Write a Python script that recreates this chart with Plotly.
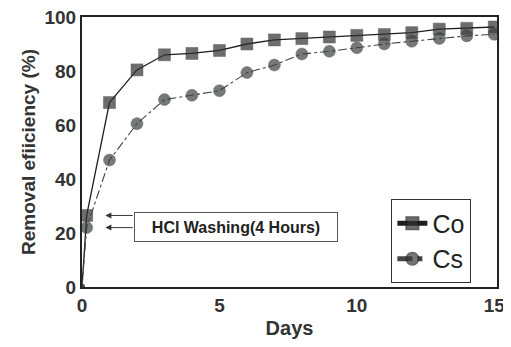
import plotly.graph_objects as go

days = [0, 0.17, 1, 2, 3, 4, 5, 6, 7, 8, 9, 10, 11, 12, 13, 14, 15]
co = [0, 26.5, 68.3, 80.4, 86.0, 86.5, 87.6, 90.0, 91.5, 92.0, 92.6, 93.2, 93.5, 94.2, 95.5, 95.8, 96.3]
cs = [0, 22.0, 47.0, 60.5, 69.4, 71.0, 72.7, 79.4, 82.2, 86.3, 87.3, 88.6, 90.0, 91.0, 92.0, 93.0, 93.6]
x_ticks = [0, 5, 10, 15]
y_ticks = [0, 20, 40, 60, 80, 100]
note = "HCl Washing(4 Hours)"
arrow_levels = [26.5, 22.0]

FONT = "Liberation Sans, Arial, sans-serif"
DARK = "#2e3231"

fig = go.Figure()
fig.add_trace(go.Scatter(
    x=days, y=co, name="Co", mode="lines+markers",
    line=dict(color="#1e1e1e", width=1.3),
    marker=dict(symbol="square", size=[5] + [12] * (len(days) - 1), color=DARK,
                line=dict(color="#1e1e1e", width=0.5)),
))
fig.add_trace(go.Scatter(
    x=days, y=cs, name="Cs", mode="lines+markers",
    line=dict(color="#444444", width=1.1, dash="dashdot"),
    marker=dict(symbol="circle", size=[5] + [12] * (len(days) - 1), color="#3c4140",
                line=dict(color="#2a2a2a", width=0.5)),
))

for lvl in arrow_levels:
    fig.add_annotation(x=0.85, y=lvl, ax=1.9, ay=lvl, xref="x", yref="y",
                       axref="x", ayref="y", text="", showarrow=True,
                       arrowhead=2, arrowsize=1.2, arrowwidth=1, arrowcolor="#333333")

fig.add_annotation(x=5.62, y=22.2, xref="x", yref="y", text="<b>" + note + "</b>", showarrow=False,
                   font=dict(family=FONT, size=16, color="#222222"),
                   bordercolor="#555555", borderwidth=1, borderpad=4,
                   width=194, height=20, bgcolor="white")

# page body has an 8px margin, so the figure is 8px smaller and margins shifted
fig.update_layout(
    width=503, height=339,
    margin=dict(l=74, r=14, t=9, b=60, autoexpand=False),
    paper_bgcolor="white", plot_bgcolor="white",
    font=dict(family=FONT, color="#222222"),
    showlegend=True,
    legend=dict(x=0.745, y=0.325, xanchor="left", yanchor="top",
                bordercolor="#333333", borderwidth=1.2, bgcolor="white",
                font=dict(family=FONT, size=25, color="#222222"),
                itemsizing="constant", tracegroupgap=0),
    xaxis=dict(range=[0, 15.1], tickvals=x_ticks, showgrid=False, zeroline=False,
               automargin=False, ticklabeloverflow="allow",
               showline=True, linecolor="#222222", linewidth=2, mirror=True,
               ticks="", tickfont=dict(family=FONT, size=19, color="#333333", weight="bold"),
               title=dict(text="<b>Days</b>", font=dict(family=FONT, size=20, color="#333333"),
                          standoff=6)),
    yaxis=dict(range=[0, 100], tickvals=y_ticks, showgrid=False, zeroline=False,
               automargin=False, ticklabeloverflow="allow",
               showline=True, linecolor="#222222", linewidth=2, mirror=True,
               ticks="", tickfont=dict(family=FONT, size=19, color="#333333", weight="bold"),
               title=dict(text="<b>Removal efiiciency (%)</b>",
                          font=dict(family=FONT, size=19, color="#333333"), standoff=4)),
)

fig.write_html("out.html")
